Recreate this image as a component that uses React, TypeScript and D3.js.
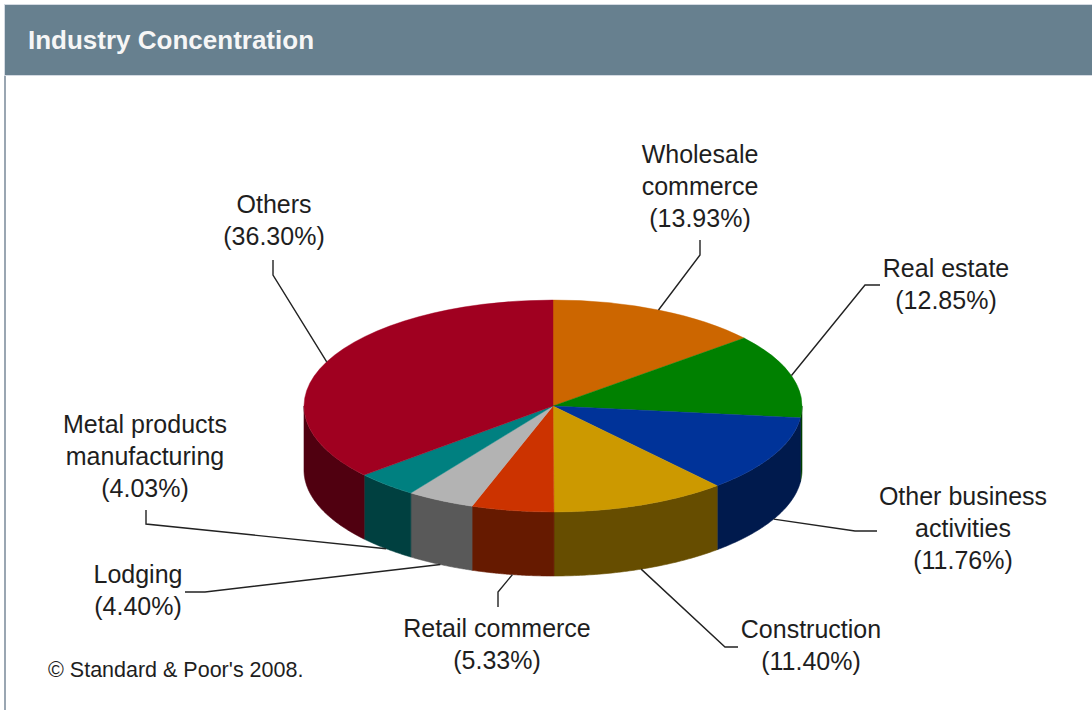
import React, { useEffect, useRef } from 'react';
import * as d3 from 'd3';

// slice data, clockwise from 12 o'clock
const categories = [
  ['Wholesale', 'commerce'],
  ['Real estate'],
  ['Other business', 'activities'],
  ['Construction'],
  ['Retail commerce'],
  ['Lodging'],
  ['Metal products', 'manufacturing'],
  ['Others'],
];
const shares = [13.93, 12.85, 11.76, 11.4, 5.33, 4.4, 4.03, 36.3];
const topColors = ['#cc6600', '#008000', '#003399', '#cc9900', '#cc3300', '#b3b3b3', '#008080', '#a00020'];
const sideColors = ['#663300', '#004000', '#001a4d', '#664d00', '#661a00', '#595959', '#004040', '#500010'];

// label placement: text centre x, first baseline, leader elbow and end
const labelLayout = [
  { x: 700, y: 163, elbow: [700, 255], end: [700, 240] },
  { x: 946, y: 277, elbow: [865, 285], end: [880, 285] },
  { x: 963, y: 505, elbow: [855, 531], end: [877, 531] },
  { x: 811, y: 638, elbow: [725, 647], end: [738, 647] },
  { x: 497, y: 637, elbow: [498, 592], end: [498, 607] },
  { x: 138, y: 583, elbow: [205, 592], end: [185, 592] },
  { x: 145, y: 433, elbow: [146, 524], end: [146, 510] },
  { x: 274, y: 213, elbow: [273, 275], end: [273, 260] },
];

const W = 1092;
const H = 710;

const App: React.FC = () => {
  const svgRef = useRef<SVGSVGElement>(null);

  useEffect(() => {
    if (!svgRef.current) return;
    const svg = d3.select(svgRef.current);
    svg.selectAll('*').remove();

    const font = "'Liberation Sans', Arial, sans-serif";

    // panel frame + header
    svg.append('rect').attr('x', 0).attr('y', 0).attr('width', W).attr('height', H).attr('fill', '#fff');
    svg.append('line')
      .attr('x1', 5).attr('x2', 5).attr('y1', 5).attr('y2', H)
      .attr('stroke', '#9aa6b2').attr('stroke-width', 2);
    svg.append('rect')
      .attr('x', 4).attr('y', 4).attr('width', W - 4).attr('height', 72)
      .attr('fill', '#d4dae2');
    svg.append('rect')
      .attr('x', 5).attr('y', 5).attr('width', W - 5).attr('height', 70)
      .attr('fill', '#67808f');
    svg.append('text')
      .attr('x', 28).attr('y', 49)
      .attr('font-family', font).attr('font-size', 26).attr('font-weight', 'bold')
      .attr('fill', '#f6f6f6')
      .text('Industry Concentration');

    // 3D pie geometry
    const cx = 553, cy = 406, rx = 249, ry = 106, depth = 64;
    const pt = (a: number, dy = 0): [number, number] =>
      [cx + rx * Math.sin(a), cy - ry * Math.cos(a) + dy];

    const arcs = d3.pie<number>().sort(null).value(d => d)(shares);
    const line = d3.line();

    const pie = svg.append('g');

    // side walls (front half only)
    arcs.forEach((a, i) => {
      const s = Math.max(a.startAngle, Math.PI / 2);
      const e = Math.min(a.endAngle, (3 * Math.PI) / 2);
      if (s >= e) return;
      const n = 60;
      const angles = d3.range(n + 1).map(k => s + ((e - s) * k) / n);
      const pts = [...angles.map(t => pt(t)), ...angles.slice().reverse().map(t => pt(t, depth))];
      pie.append('path')
        .attr('d', line(pts) + 'Z')
        .attr('fill', sideColors[i])
        .attr('stroke', sideColors[i])
        .attr('stroke-width', 0.6);
    });

    // top faces
    const arcGen = d3.arc<d3.PieArcDatum<number>>().innerRadius(0).outerRadius(rx);
    const top = pie.append('g').attr('transform', `translate(${cx},${cy}) scale(1,${ry / rx})`);
    arcs.forEach((a, i) => {
      top.append('path')
        .attr('d', arcGen(a) as string)
        .attr('fill', topColors[i])
        .attr('stroke', topColors[i])
        .attr('stroke-width', 0.6);
    });

    // leader lines + labels
    arcs.forEach((a, i) => {
      const mid = (a.startAngle + a.endAngle) / 2;
      const anchor = Math.cos(mid) < 0 ? pt(mid, depth) : pt(mid);
      const lay = labelLayout[i];
      svg.append('path')
        .attr('d', line([lay.end as [number, number], lay.elbow as [number, number], anchor]))
        .attr('fill', 'none')
        .attr('stroke', '#222')
        .attr('stroke-width', 1.4);

      const lines = [...categories[i], `(${shares[i].toFixed(2)}%)`];
      const t = svg.append('text')
        .attr('font-family', font).attr('font-size', 25)
        .attr('fill', '#1e1e1e')
        .attr('text-anchor', 'middle');
      lines.forEach((s, k) => {
        t.append('tspan').attr('x', lay.x).attr('y', lay.y + k * 32).text(s);
      });
    });

    svg.append('text')
      .attr('x', 48).attr('y', 677)
      .attr('font-family', font).attr('font-size', 21.5)
      .attr('fill', '#1e1e1e')
      .text("\u00a9 Standard & Poor's 2008.");
  }, []);

  return (
    <svg
      ref={svgRef}
      width={W}
      height={H}
      style={{ position: 'absolute', left: 0, top: 0 }}
    />
  );
};

export default App;
